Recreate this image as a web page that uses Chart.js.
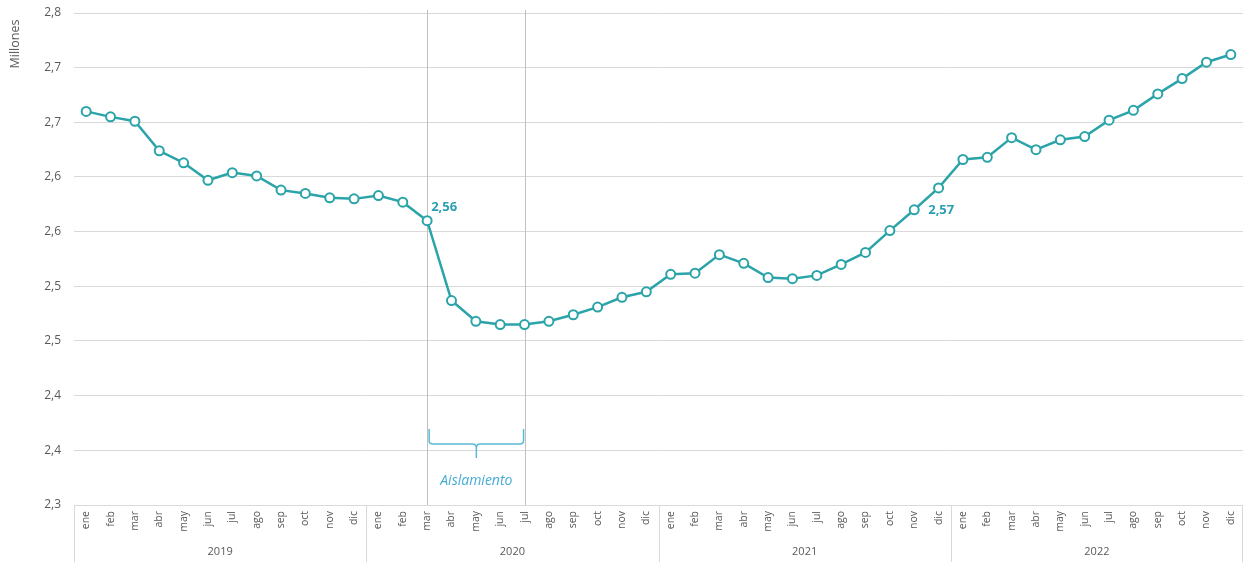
<!DOCTYPE html>
<html>
<head>
<meta charset="utf-8">
<script src="https://cdn.jsdelivr.net/npm/chart.js@4.4.1/dist/chart.umd.min.js"></script>
<style>
  html, body { margin: 0; padding: 0; background: #fff; overflow: hidden; }
  #wrap { width: 1243px; height: 562px; position: relative; }
</style>
</head>
<body>
<div id="wrap"><canvas id="chart"></canvas></div>
<script>
// meses y años del eje x
const months = ['ene', 'feb', 'mar', 'abr', 'may', 'jun', 'jul', 'ago', 'sep', 'oct', 'nov', 'dic'];
const years = ['2019', '2020', '2021', '2022'];

// valores en millones
const values2019 = [2.660, 2.655, 2.651, 2.624, 2.613, 2.597, 2.604, 2.601, 2.588, 2.585, 2.581, 2.580];
const values2020 = [2.583, 2.577, 2.560, 2.487, 2.468, 2.465, 2.465, 2.468, 2.474, 2.481, 2.490, 2.495];
const values2021 = [2.511, 2.512, 2.529, 2.521, 2.508, 2.507, 2.510, 2.520, 2.531, 2.551, 2.570, 2.590];
const values2022 = [2.616, 2.618, 2.636, 2.625, 2.634, 2.637, 2.652, 2.661, 2.676, 2.690, 2.705, 2.712];

// ticks del eje y (el original redondea a un decimal)
const yTicks = [2.30, 2.35, 2.40, 2.45, 2.50, 2.55, 2.60, 2.65, 2.70, 2.75];
const yTickLabels = ['2,3', '2,4', '2,4', '2,5', '2,5', '2,6', '2,6', '2,7', '2,7', '2,8'];

// aislamiento: mar 2020 a jul 2020
const lockdownStart = 14;
const lockdownEnd = 18;
// puntos con etiqueta: mar 2020 y nov 2021
const labelledPoints = [14, 34];

const labels = years.flatMap(() => months);
const values = [...values2019, ...values2020, ...values2021, ...values2022];
const yearCenters = years.map((y, i) => i * 12 + 5.5);
const yearEdges = [0, 1, 2, 3, 4].map(i => i * 12 - 0.5);

const FONT = "'Open Sans', 'Noto Sans', sans-serif";
const TEAL = '#2ba4a9';
const GREY_TEXT = '#595959';
const GRID = '#d9d9d9';

// quita el relleno automático que Chart.js añade por las etiquetas
function noPadding(s) {
  s.paddingTop = 0;
  s.paddingBottom = 0;
  s.paddingLeft = 0;
  s.paddingRight = 0;
}

const extrasPlugin = {
  id: 'extras',
  beforeDatasetsDraw(chart) {
    const { ctx, chartArea, scales: { x } } = chart;
    ctx.save();
    ctx.strokeStyle = '#bfbfbf';
    ctx.lineWidth = 1;
    [lockdownStart, lockdownEnd].forEach(i => {
      const px = Math.round(x.getPixelForValue(i)) + 0.5;
      ctx.beginPath();
      ctx.moveTo(px, chartArea.top - 3);
      ctx.lineTo(px, chartArea.bottom);
      ctx.stroke();
    });
    ctx.restore();
  },
  afterDraw(chart) {
    const { ctx, scales: { x, x2, y } } = chart;
    ctx.save();

    // separadores de años
    ctx.strokeStyle = GRID;
    ctx.lineWidth = 1;
    yearEdges.forEach(v => {
      const px = Math.min(Math.round(x2.getPixelForValue(v)) + 0.5, chart.width - 0.5);
      ctx.beginPath();
      ctx.moveTo(px, x.top);
      ctx.lineTo(px, chart.height);
      ctx.stroke();
    });

    // llave de "Aislamiento"
    const xs = x.getPixelForValue(lockdownStart) + 2;
    const xe = x.getPixelForValue(lockdownEnd) - 1;
    const cx = (xs + xe) / 2;
    const yTop = y.getPixelForValue(2.3695);
    const yMid = y.getPixelForValue(2.3558);
    const yTip = y.getPixelForValue(2.343);
    ctx.strokeStyle = '#5ab8d6';
    ctx.lineWidth = 1.5;
    ctx.beginPath();
    ctx.moveTo(xs, yTop);
    ctx.lineTo(xs, yMid - 3);
    ctx.quadraticCurveTo(xs, yMid, xs + 4, yMid);
    ctx.lineTo(cx - 4, yMid);
    ctx.quadraticCurveTo(cx, yMid, cx, yMid + 4);
    ctx.lineTo(cx, yTip);
    ctx.moveTo(cx, yMid + 4);
    ctx.quadraticCurveTo(cx, yMid, cx + 4, yMid);
    ctx.lineTo(xe - 4, yMid);
    ctx.quadraticCurveTo(xe, yMid, xe, yMid - 3);
    ctx.lineTo(xe, yTop);
    ctx.stroke();

    ctx.fillStyle = '#45acd6';
    ctx.font = 'italic 14px ' + FONT;
    ctx.textAlign = 'center';
    ctx.textBaseline = 'middle';
    ctx.fillText('Aislamiento', cx, y.getPixelForValue(2.322));

    // etiquetas de datos
    const meta = chart.getDatasetMeta(0);
    ctx.fillStyle = '#2b9fb0';
    ctx.font = 'bold 13px ' + FONT;
    ctx.textAlign = 'left';
    labelledPoints.forEach((idx, k) => {
      const pt = meta.data[idx];
      const txt = values[idx].toFixed(2).replace('.', ',');
      if (k === 0) ctx.fillText(txt, pt.x + 4, pt.y - 13);
      else ctx.fillText(txt, pt.x + 14, pt.y);
    });

    // título del eje y
    ctx.fillStyle = GREY_TEXT;
    ctx.font = '12.5px ' + FONT;
    ctx.translate(15, 44);
    ctx.rotate(-Math.PI / 2);
    ctx.textAlign = 'center';
    ctx.textBaseline = 'middle';
    ctx.fillText('Millones', 0, 0);
    ctx.restore();
  }
};

new Chart(document.getElementById('chart'), {
  type: 'line',
  data: {
    labels: labels,
    datasets: [{
      data: values,
      borderColor: TEAL,
      borderWidth: 2.5,
      pointRadius: 4.5,
      pointBorderWidth: 2,
      pointBackgroundColor: '#fff',
      pointBorderColor: TEAL,
      tension: 0
    }]
  },
  options: {
    responsive: true,
    maintainAspectRatio: false,
    animation: false,
    layout: { autoPadding: false, padding: { top: 13, right: 0, bottom: 0, left: 0 } },
    plugins: { legend: { display: false }, tooltip: { enabled: false } },
    scales: {
      y: {
        min: 2.30,
        max: 2.75,
        afterBuildTicks: s => { s.ticks = yTicks.map(v => ({ value: v })); },
        afterFit: s => { s.width = 74; noPadding(s); },
        ticks: {
          callback: (v, i) => yTickLabels[i],
          color: GREY_TEXT,
          font: { family: FONT, size: 12 },
          padding: 13
        },
        grid: { color: GRID, drawTicks: false },
        border: { display: false }
      },
      x: {
        type: 'category',
        offset: true,
        afterFit: s => { s.height = 36; noPadding(s); },
        ticks: {
          autoSkip: false,
          minRotation: 90,
          maxRotation: 90,
          color: GREY_TEXT,
          font: { family: FONT, size: 10.5 },
          padding: 6
        },
        grid: { display: false, drawTicks: false },
        border: { display: true, color: GRID }
      },
      x2: {
        type: 'linear',
        position: 'bottom',
        weight: 1,
        min: -0.5,
        max: 47.5,
        afterBuildTicks: s => { s.ticks = yearCenters.map(v => ({ value: v })); },
        afterFit: s => { s.height = 21; noPadding(s); },
        ticks: {
          autoSkip: false,
          maxRotation: 0,
          callback: (v, i) => years[i],
          color: GREY_TEXT,
          font: { family: FONT, size: 11 },
          padding: 4
        },
        grid: { display: false, drawTicks: false },
        border: { display: false }
      }
    }
  },
  plugins: [extrasPlugin]
});
</script>
</body>
</html>
